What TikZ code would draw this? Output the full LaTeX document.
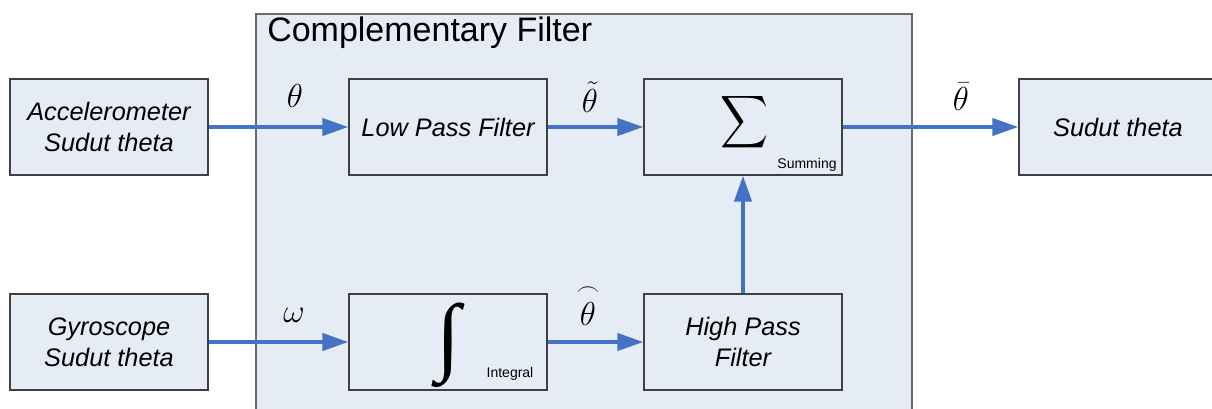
\documentclass[tikz,border=0pt]{standalone}
\usepackage{amsmath}
\usepackage{graphicx}
\usepackage{fontspec}
\setmainfont{Liberation Sans}
\newfontfamily\intfont{Liberation Serif}
\usetikzlibrary{arrows.meta}
\definecolor{arrowblue}{HTML}{4472C4}
\definecolor{boxfill}{HTML}{E6ECF6}
\definecolor{boxline}{HTML}{404040}
\definecolor{outerline}{HTML}{6A6A6A}
\tikzset{
  block/.style={draw=boxline, line width=0.9pt, fill=boxfill, minimum width=148.5pt, minimum height=72pt, inner sep=0pt, align=center, font=\fontsize{19}{23.25}\selectfont\itshape},
  flow/.style={draw=arrowblue, line width=3pt, -{Triangle[length=19.5pt,width=12.75pt]}},
  siglabel/.style={inner sep=0pt, font=\fontsize{24}{24}\selectfont},
  smalllabel/.style={inner sep=0pt, font=\fontsize{10.5}{10.5}\selectfont}
}
\begin{document}
\begin{tikzpicture}[x=0.75pt,y=-0.75pt]
\useasboundingbox (0,0) rectangle (1212,408);
\clip (0,0) rectangle (1212,408);
\fill[white] (0,0) rectangle (1212,408);
% outer complementary filter box
\draw[outerline, line width=0.9pt, fill=boxfill] (256,14) rectangle (912,430);
\node[anchor=west, inner sep=0pt, font=\fontsize{25.5}{25.5}\selectfont] (title) at (267,33) {Complementary Filter};
% blocks
\node[block] (acc) at (109,127) {Accelerometer\\Sudut theta};
\node[block] (lpf) at (448,127) {Low Pass Filter};
\node[block] (sum) at (743,127) {};
\node[block] (out) at (1118,127) {Sudut theta};
\node[block] (gyro) at (109,342) {Gyroscope\\Sudut theta};
\node[block] (int) at (448,342) {};
\node[block] (hpf) at (743,342) {High Pass\\Filter};
% symbols inside blocks
\node[inner sep=0pt] (sigma) at (744,122) {\resizebox*{36pt}{44pt}{$\displaystyle\sum$}};
\node[smalllabel] (summing) at (807,165) {Summing};
\node[inner sep=0pt] (integ) at (448,345.5) {\resizebox*{18pt}{63.5pt}{\intfont ∫}};
\node[smalllabel] (integral) at (510,374) {Integral};
% connectors
\draw[flow] (acc.east) -- (lpf.west);
\draw[flow] (lpf.east) -- (sum.west);
\draw[flow] (sum.east) -- (out.west);
\draw[flow] (gyro.east) -- (int.west);
\draw[flow] (int.east) -- (hpf.west);
\draw[flow] (hpf.north) -- (sum.south);
% signal labels
\node[siglabel] (lth) at (295,96) {$\theta$};
\node[siglabel] (lthtilde) at (590,97) {$\tilde{\theta}$};
\node[siglabel] (lthbar) at (961,97) {$\bar{\theta}$};
\node[siglabel] (lomega) at (294,315) {$\omega$};
\node[siglabel] (lthhat) at (588,305) {$\overset{\frown}{\theta}$};
\end{tikzpicture}
\end{document}
